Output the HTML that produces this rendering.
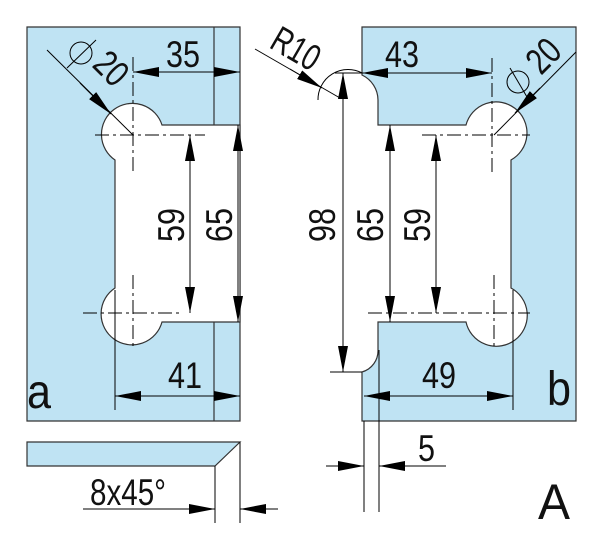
<!DOCTYPE html>
<html><head><meta charset="utf-8"><style>
html,body{margin:0;padding:0;background:#fff}
svg{display:block}
text{font-family:"Liberation Sans",sans-serif;fill:#111}
</style></head><body>
<svg width="600" height="541" viewBox="0 0 600 541" xmlns="http://www.w3.org/2000/svg">
<defs>
<marker id="ar" viewBox="0 0 26 10" refX="26" refY="5" markerWidth="26" markerHeight="10" markerUnits="userSpaceOnUse" orient="auto-start-reverse">
<path d="M0,0 L26,5 L0,10 Z" fill="#000"/></marker>
</defs>
<g stroke="#333" stroke-width="1.2">
<path fill="#bfe3f3" d="M27,27 H240 V421 H27 Z"/>
<path fill="#fff" d="M240,125 H162 A31,31 0 1 0 115,160 V288 A31,31 0 1 0 162,322 H240 Z"/>
<line x1="214" y1="27" x2="214" y2="125"/>
<line x1="214" y1="322" x2="214" y2="421"/>
<path fill="#bfe3f3" d="M27,442 H240 L215,466 H27 Z"/>
<path fill="#bfe3f3" d="M362,27 H576 V421 H362 V372 A22,22 0 0 0 378,350 V322 H466 A31,31 0 1 0 511,288 V160 A31,31 0 1 0 466,125 H378 V100 A28,28 0 0 0 362,75 Z"/>
</g>
<g stroke="#000" stroke-width="1" fill="none">
<g stroke-dasharray="14,4,3,4">
<line x1="95" y1="135" x2="205" y2="135"/><line x1="133" y1="57" x2="133" y2="175"/>
<line x1="83" y1="313" x2="180" y2="313"/><line x1="133" y1="275" x2="133" y2="350"/>
<line x1="422" y1="135" x2="530" y2="135"/><line x1="492" y1="58" x2="492" y2="175"/>
<line x1="368" y1="313" x2="530" y2="313"/><line x1="494" y1="275" x2="494" y2="350"/>
</g>
<line x1="133" y1="72" x2="240" y2="72" marker-start="url(#ar)" marker-end="url(#ar)"/>
<line x1="190" y1="135" x2="190" y2="313" marker-start="url(#ar)" marker-end="url(#ar)"/>
<line x1="238" y1="125" x2="238" y2="322" marker-start="url(#ar)" marker-end="url(#ar)"/>
<line x1="47" y1="50" x2="133" y2="135"/>
<line x1="80" y1="83" x2="111" y2="114" marker-end="url(#ar)"/>
<circle cx="81" cy="53" r="11"/><line x1="67" y1="68" x2="96" y2="40"/>
<line x1="115" y1="290" x2="115" y2="410"/>
<line x1="115" y1="396" x2="240" y2="396" marker-start="url(#ar)" marker-end="url(#ar)"/>
<line x1="215" y1="466" x2="215" y2="523"/><line x1="240" y1="442" x2="240" y2="523"/>
<line x1="83" y1="509" x2="215" y2="509" marker-end="url(#ar)"/>
<line x1="278" y1="509" x2="240" y2="509" marker-end="url(#ar)"/>
<path d="M318,100 A30,30 0 0 1 362,73"/>
<line x1="255" y1="49" x2="340" y2="98"/>
<line x1="290" y1="69" x2="322" y2="88" marker-end="url(#ar)"/>
<line x1="335" y1="73" x2="362" y2="73"/><line x1="330" y1="372" x2="362" y2="372"/>
<line x1="343" y1="73" x2="343" y2="372" marker-start="url(#ar)" marker-end="url(#ar)"/>
<line x1="390" y1="125" x2="390" y2="322" marker-start="url(#ar)" marker-end="url(#ar)"/>
<line x1="436" y1="135" x2="436" y2="313" marker-start="url(#ar)" marker-end="url(#ar)"/>
<line x1="362" y1="73" x2="492" y2="73" marker-start="url(#ar)" marker-end="url(#ar)"/>
<line x1="576" y1="52" x2="494" y2="135"/>
<line x1="540" y1="88" x2="515" y2="113" marker-end="url(#ar)"/>
<circle cx="518" cy="82" r="11"/><line x1="510" y1="68" x2="527" y2="97"/>
<line x1="513" y1="290" x2="513" y2="410"/>
<line x1="364" y1="396" x2="513" y2="396" marker-start="url(#ar)" marker-end="url(#ar)"/>
<line x1="364" y1="421" x2="364" y2="512"/><line x1="379" y1="350" x2="379" y2="512"/>
<line x1="326" y1="466" x2="364" y2="466" marker-end="url(#ar)"/>
<line x1="446" y1="466" x2="379" y2="466" marker-end="url(#ar)"/>
</g>
<g font-size="37">
<text x="166" y="67" textLength="34" lengthAdjust="spacingAndGlyphs">35</text>
<text x="385" y="67" textLength="34" lengthAdjust="spacingAndGlyphs">43</text>
<text x="168" y="388" textLength="34" lengthAdjust="spacingAndGlyphs">41</text>
<text x="422" y="388" textLength="34" lengthAdjust="spacingAndGlyphs">49</text>
<text x="418" y="461" textLength="17" lengthAdjust="spacingAndGlyphs">5</text>
<text x="90" y="505" textLength="76" lengthAdjust="spacingAndGlyphs">8x45°</text>
<text transform="translate(184,242) rotate(-90)" textLength="34" lengthAdjust="spacingAndGlyphs">59</text>
<text transform="translate(232,242) rotate(-90)" textLength="34" lengthAdjust="spacingAndGlyphs">65</text>
<text transform="translate(335,242) rotate(-90)" textLength="34" lengthAdjust="spacingAndGlyphs">98</text>
<text transform="translate(383,242) rotate(-90)" textLength="34" lengthAdjust="spacingAndGlyphs">65</text>
<text transform="translate(430,242) rotate(-90)" textLength="34" lengthAdjust="spacingAndGlyphs">59</text>
<text transform="translate(91,66) rotate(45)" textLength="32" lengthAdjust="spacingAndGlyphs">20</text>
<text transform="translate(541,76) rotate(-45)" textLength="32" lengthAdjust="spacingAndGlyphs">20</text>
<text transform="translate(268,47) rotate(30)" textLength="50" lengthAdjust="spacingAndGlyphs">R10</text>
</g>
<text x="27" y="408" font-size="48" textLength="24" lengthAdjust="spacingAndGlyphs">a</text>
<text x="547" y="405" font-size="48" textLength="24" lengthAdjust="spacingAndGlyphs">b</text>
<text x="538" y="519" font-size="50" textLength="32" lengthAdjust="spacingAndGlyphs">A</text>
</svg>
</body></html>
